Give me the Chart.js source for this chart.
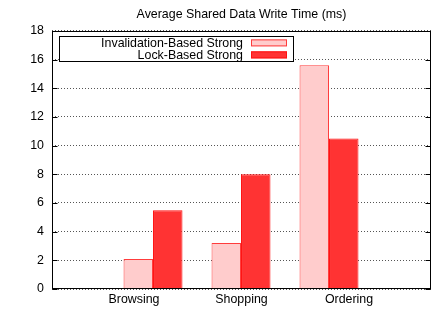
<!DOCTYPE html>
<html>
<head>
<meta charset="utf-8">
<script src="https://cdn.jsdelivr.net/npm/chart.js@4"></script>
<style>
  html, body { margin: 0; padding: 0; background: #fff; }
  #wrap { width: 441px; height: 309px; }
</style>
</head>
<body>
<div id="wrap"><canvas id="grafico"></canvas></div>
<script>
const categorias = ['Browsing', 'Shopping', 'Ordering'];
const invalidacion = [2.1, 3.2, 15.6];
const bloqueo = [5.5, 8.0, 10.5];
const yTicks = [0, 2, 4, 6, 8, 10, 12, 14, 16, 18];

const fuente = { family: '"Liberation Sans", Arial, sans-serif', size: 12.4 };

// borde completo + ticks hacia dentro (estilo gnuplot)
const marcoPlugin = {
    id: 'marco',
    afterDraw(chart) {
        const { ctx, chartArea: a, scales } = chart;
        ctx.save();
        ctx.strokeStyle = '#000';
        ctx.lineWidth = 1;
        const l = Math.round(a.left) + 0.5, r = Math.round(a.right) - 0.5;
        const t = Math.round(a.top) + 0.5, b = Math.round(a.bottom) - 0.5;
        ctx.beginPath();
        yTicks.forEach(v => {
            const y = Math.round(scales.y.getPixelForValue(v)) + 0.5;
            ctx.moveTo(l, y); ctx.lineTo(l + 5, y);
            ctx.moveTo(r, y); ctx.lineTo(r - 5, y);
        });
        ctx.stroke();
        ctx.strokeRect(l, t, r - l, b - t);

        // leyenda
        const lx = a.left + 7, ly = a.top + 5, lw = 234, lh = 25;
        ctx.fillStyle = '#fff';
        ctx.fillRect(lx, ly, lw, lh);
        ctx.strokeRect(Math.round(lx) + 0.5, Math.round(ly) + 0.5, lw, lh);
        ctx.font = `${fuente.size}px ${fuente.family}`;
        ctx.textAlign = 'right';
        ctx.textBaseline = 'middle';
        chart.data.datasets.forEach((ds, i) => {
            const cy = ly + 7 + i * 12;
            ctx.fillStyle = '#000';
            ctx.fillText(ds.label, lx + 184, cy + 0.5);
            ctx.fillStyle = ds.backgroundColor;
            ctx.fillRect(lx + 192, cy - 3.5, 36, 7);
            ctx.strokeStyle = ds.borderColor;
            ctx.strokeRect(lx + 192.5, cy - 3, 35, 6);
        });
        ctx.restore();
    }
};

new Chart(document.getElementById('grafico'), {
    type: 'bar',
    data: {
        datasets: [{
            label: 'Invalidation-Based Strong',
            data: invalidacion.map((v, i) => ({ x: i, y: v })),
            backgroundColor: '#ffcccc',
            borderColor: '#ff3c3c',
            borderWidth: 1,
            xAxisID: 'xb'
        }, {
            label: 'Lock-Based Strong',
            data: bloqueo.map((v, i) => ({ x: i, y: v })),
            backgroundColor: '#ff3333',
            borderColor: '#ff1111',
            borderWidth: 1,
            xAxisID: 'xb'
        }]
    },
    options: {
        responsive: true,
        maintainAspectRatio: false,
        animation: false,
        barPercentage: 1,
        categoryPercentage: 0.67,
        layout: { padding: { left: 0, right: 10, top: 0, bottom: 0 } },
        plugins: {
            legend: { display: false },
            tooltip: { enabled: false },
            title: {
                display: true,
                fullSize: false,
                text: 'Average Shared Data Write Time (ms)',
                color: '#000',
                font: { ...fuente, weight: 'normal' },
                padding: { top: 7, bottom: 9 }
            }
        },
        scales: {
            xb: {
                type: 'linear',
                display: false,
                offset: false,
                grid: { offset: false },
                min: -1.148,
                max: 3.159
            },
            x: {
                type: 'linear',
                position: 'bottom',
                offset: false,
                min: -0.763,
                max: 2.763,
                afterBuildTicks: s => { s.ticks = categorias.map((c, i) => ({ value: i })); },
                afterFit: s => { s.height = 20; },
                grid: { display: false, drawTicks: false, offset: false },
                border: { display: false },
                ticks: {
                    color: '#000',
                    font: fuente,
                    padding: 3,
                    maxRotation: 0,
                    callback: v => categorias[v]
                }
            },
            y: {
                min: 0,
                max: 18,
                afterBuildTicks: s => { s.ticks = yTicks.map(v => ({ value: v })); },
                afterFit: s => { s.width = 52; },
                grid: {
                    color: '#555',
                    lineWidth: 1,
                    drawTicks: false,
                    tickBorderDash: [1, 2]
                },
                border: { display: false, dash: [1, 2] },
                ticks: { color: '#000', font: fuente, padding: 8 }
            }
        }
    },
    plugins: [marcoPlugin]
});
</script>
</body>
</html>
